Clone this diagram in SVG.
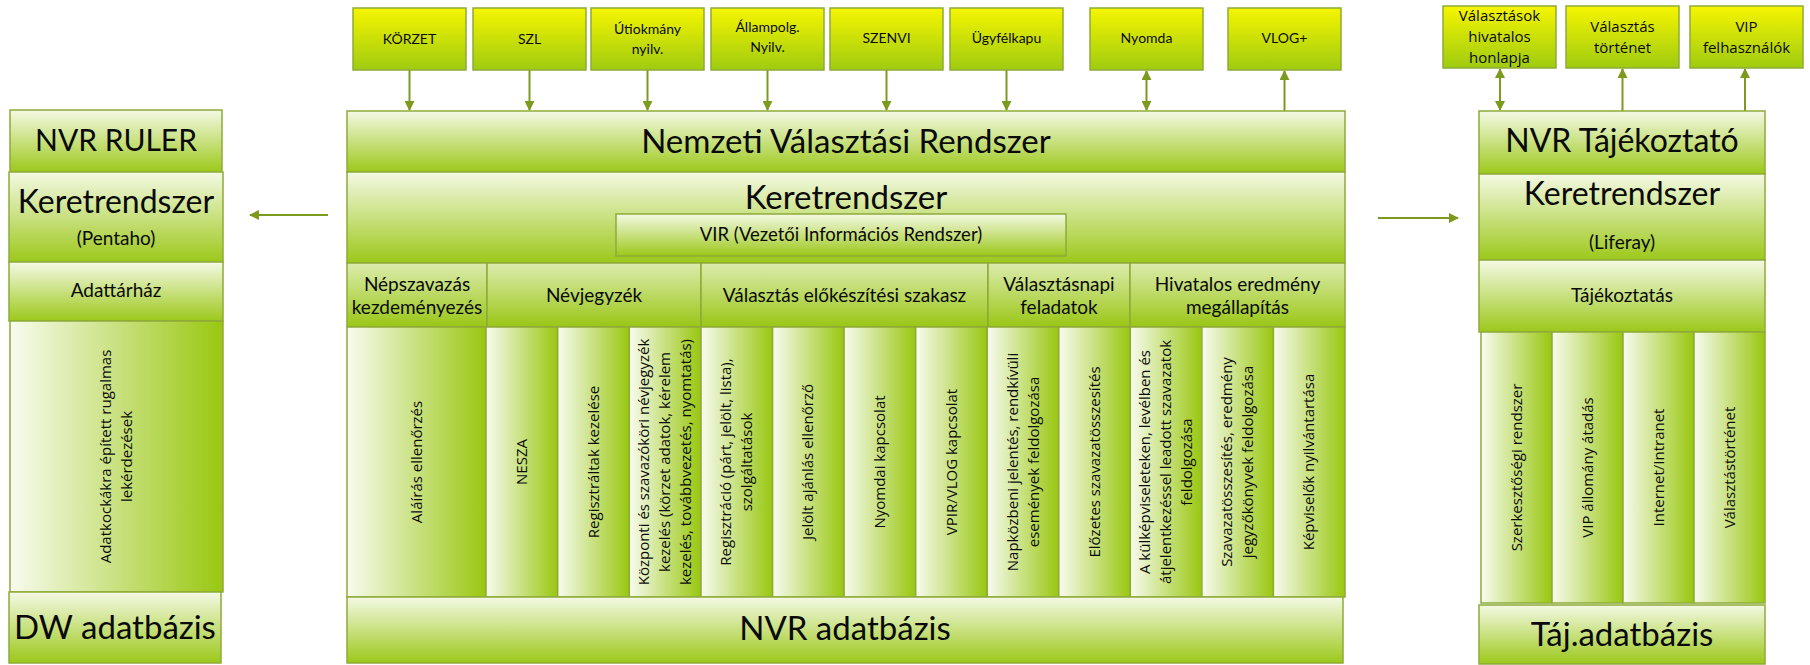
<svg xmlns="http://www.w3.org/2000/svg" width="1810" height="665" viewBox="0 0 1810 665">
<defs>
<linearGradient id="gTop" x1="0" y1="0" x2="0" y2="1">
<stop offset="0" stop-color="#f6f500"/><stop offset="1" stop-color="#9fcb10"/>
</linearGradient>
<linearGradient id="gBox" x1="0" y1="0" x2="0" y2="1">
<stop offset="0" stop-color="#f4f9e4"/><stop offset="1" stop-color="#9cc81a"/>
</linearGradient>
<linearGradient id="gHead" x1="0" y1="0" x2="0" y2="1">
<stop offset="0" stop-color="#dcecae"/><stop offset="1" stop-color="#9ac616"/>
</linearGradient>
<linearGradient id="gBar" x1="0" y1="0" x2="1" y2="0">
<stop offset="0" stop-color="#f8fbef"/><stop offset="1" stop-color="#99c710"/>
</linearGradient>
<marker id="ah" viewBox="0 0 10 10" refX="9" refY="5" markerWidth="5" markerHeight="5" orient="auto-start-reverse" markerUnits="strokeWidth">
<path d="M0,0 L10,5 L0,10 z" fill="#7c9a1e"/>
</marker>
</defs>
<style>
.top,.box,.head,.bar{stroke:#8eab38;stroke-width:1.5}
.top{fill:url(#gTop)}
.box{fill:url(#gBox)}
.head{fill:url(#gHead)}
.bar{fill:url(#gBar)}
text{fill:#0a0a0a;text-anchor:middle}
.c{font-family:Lato,"Liberation Sans",sans-serif}
.o{font-family:"Open Sans","DejaVu Sans",sans-serif}
.t14{font-size:14px}
.v{font-family:"Open Sans","DejaVu Sans",sans-serif;font-size:15px}
.con{stroke:#7c9a1e;stroke-width:2;fill:none}
</style>

<g id="connectors">
<line class="con" x1="409.5" y1="70" x2="409.5" y2="110" marker-end="url(#ah)"/>
<line class="con" x1="529.5" y1="70" x2="529.5" y2="110" marker-end="url(#ah)"/>
<line class="con" x1="647.5" y1="70" x2="647.5" y2="110" marker-end="url(#ah)"/>
<line class="con" x1="767.5" y1="70" x2="767.5" y2="110" marker-end="url(#ah)"/>
<line class="con" x1="886.5" y1="70" x2="886.5" y2="110" marker-end="url(#ah)"/>
<line class="con" x1="1006.5" y1="70" x2="1006.5" y2="110" marker-end="url(#ah)"/>
<line class="con" x1="1146.5" y1="71" x2="1146.5" y2="110" marker-start="url(#ah)" marker-end="url(#ah)"/>
<line class="con" x1="1284.5" y1="111" x2="1284.5" y2="71" marker-end="url(#ah)"/>
<line class="con" x1="1500" y1="69" x2="1500" y2="110" marker-start="url(#ah)" marker-end="url(#ah)"/>
<line class="con" x1="1622.5" y1="111" x2="1622.5" y2="69" marker-end="url(#ah)"/>
<line class="con" x1="1745" y1="111" x2="1745" y2="69" marker-end="url(#ah)"/>
<line class="con" x1="328" y1="215" x2="250" y2="215" stroke-width="2.5" marker-end="url(#ah)"/>
<line class="con" x1="1378" y1="218" x2="1458" y2="218" stroke-width="2.5" marker-end="url(#ah)"/>
</g>

<!-- top boxes -->
<g id="korzet"><rect class="top" x="353" y="8" width="113" height="62"/><text class="c t14" x="409.5" y="44">KÖRZET</text></g>
<g id="szl"><rect class="top" x="473" y="8" width="113" height="62"/><text class="c t14" x="529.5" y="44">SZL</text></g>
<g id="utiokmany"><rect class="top" x="591" y="8" width="113" height="62"/><text class="c t14" x="647.5" y="34">Útiokmány</text><text class="c t14" x="647.5" y="54">nyilv.</text></g>
<g id="allampolg"><rect class="top" x="711" y="8" width="113" height="62"/><text class="c t14" x="767.5" y="32">Állampolg.</text><text class="c t14" x="767.5" y="52">Nyilv.</text></g>
<g id="szenvi"><rect class="top" x="830" y="8" width="113" height="62"/><text class="c t14" x="886.5" y="43">SZENVI</text></g>
<g id="ugyfelkapu"><rect class="top" x="950" y="8" width="113" height="62"/><text class="c t14" x="1006.5" y="43">Ügyfélkapu</text></g>
<g id="nyomda"><rect class="top" x="1090" y="8" width="113" height="62"/><text class="c t14" x="1146.5" y="43">Nyomda</text></g>
<g id="vlog"><rect class="top" x="1228" y="8" width="113" height="62"/><text class="c t14" x="1284.5" y="43">VLOG+</text></g>

<g id="honlap"><rect class="top" x="1443" y="6" width="113" height="62"/><text class="o" font-size="15" x="1499.5" y="21">Választások</text><text class="o" font-size="15" x="1499.5" y="42">hivatalos</text><text class="o" font-size="15" x="1499.5" y="63">honlapja</text></g>
<g id="valtortenet"><rect class="top" x="1566" y="6" width="113" height="62"/><text class="o" font-size="15" x="1622.5" y="32">Választás</text><text class="o" font-size="15" x="1622.5" y="53">történet</text></g>
<g id="vipfelh"><rect class="top" x="1690" y="6" width="113" height="62"/><text class="o" font-size="15" x="1746.5" y="32">VIP</text><text class="o" font-size="15" x="1746.5" y="53">felhasználók</text></g>

<!-- left column -->
<g id="ruler"><rect class="box" x="10" y="110" width="212" height="62"/><text class="c" font-size="30" x="116" y="151">NVR RULER</text></g>
<g id="ruler-keret"><rect class="box" x="9" y="172" width="214" height="90"/><text class="c" font-size="32" x="116" y="213">Keretrendszer</text><text class="c" font-size="19" x="116" y="245">(Pentaho)</text></g>
<g id="adattarhaz"><rect class="box" x="9" y="262" width="214" height="59"/><text class="c" font-size="19" x="116" y="297">Adattárház</text></g>
<g id="adatkocka"><rect class="bar" x="10" y="321" width="213" height="271"/><g transform="translate(116.5,456.5) rotate(-90)"><text class="v" x="0" y="-5.5">Adatkockákra épített rugalmas</text><text class="v" x="0" y="15.5">lekérdezések</text></g></g>
<g id="dw"><rect class="box" x="9" y="592" width="212" height="71"/><text class="c" font-size="33" x="115" y="639">DW adatbázis</text></g>

<!-- main -->
<g id="nvr"><rect class="box" x="347" y="111" width="998" height="61"/><text class="c" font-size="33" x="846" y="153">Nemzeti Választási Rendszer</text></g>
<g id="keret"><rect class="box" x="347" y="172" width="998" height="91"/><text class="c" font-size="33" x="846" y="209">Keretrendszer</text></g>
<g id="vir"><rect class="box" x="616" y="214" width="450" height="42"/><text class="c" font-size="18.5" x="841" y="241">VIR (Vezetői Információs Rendszer)</text></g>

<g id="h-nepszav"><rect class="head" x="347" y="263" width="140" height="64"/><text class="c" font-size="19" x="417" y="291">Népszavazás</text><text class="c" font-size="19" x="417" y="314">kezdeményezés</text></g>
<g id="h-nevjegyzek"><rect class="head" x="487" y="263" width="214" height="64"/><text class="c" font-size="19" x="594" y="302">Névjegyzék</text></g>
<g id="h-elokeszites"><rect class="head" x="701" y="263" width="287" height="64"/><text class="c" font-size="19" x="844.5" y="302">Választás előkészítési szakasz</text></g>
<g id="h-valnap"><rect class="head" x="988" y="263" width="142" height="64"/><text class="c" font-size="19" x="1059" y="291">Választásnapi</text><text class="c" font-size="19" x="1059" y="314">feladatok</text></g>
<g id="h-hivatalos"><rect class="head" x="1130" y="263" width="215" height="64"/><text class="c" font-size="19" x="1237.5" y="291">Hivatalos eredmény</text><text class="c" font-size="19" x="1237.5" y="314">megállapítás</text></g>

<g id="b-alairas"><rect class="bar" x="347" y="327" width="139" height="270"/><g transform="translate(416.5,462) rotate(-90)"><text class="v" y="5">Aláírás ellenőrzés</text></g></g>
<g id="b-nesza"><rect class="bar" x="486" y="327" width="71.7" height="270"/><g transform="translate(521.8,462) rotate(-90)"><text class="v" y="5">NESZA</text></g></g>
<g id="b-regkez"><rect class="bar" x="557.7" y="327" width="71.7" height="270"/><g transform="translate(593.5,462) rotate(-90)"><text class="v" y="5">Regisztráltak kezelése</text></g></g>
<g id="b-kozponti"><rect class="bar" x="629.3" y="327" width="71.7" height="270"/><g transform="translate(665.2,462) rotate(-90)"><text class="v" y="-16">Központi és szavazóköri névjegyzék</text><text class="v" y="5">kezelés (körzet adatok, kérelem</text><text class="v" y="26">kezelés, továbbvezetés, nyomtatás)</text></g></g>
<g id="b-regisztracio"><rect class="bar" x="701" y="327" width="71.6" height="270"/><g transform="translate(736.8,462) rotate(-90)"><text class="v" y="-5.5">Regisztráció (párt, jelölt, lista),</text><text class="v" y="15.5">szolgáltatások</text></g></g>
<g id="b-jelolt"><rect class="bar" x="772.6" y="327" width="71.6" height="270"/><g transform="translate(808.4,462) rotate(-90)"><text class="v" y="5">Jelölt ajánlás ellenőrző</text></g></g>
<g id="b-nyomdai"><rect class="bar" x="844.1" y="327" width="71.6" height="270"/><g transform="translate(879.9,462) rotate(-90)"><text class="v" y="5">Nyomdai kapcsolat</text></g></g>
<g id="b-vpir"><rect class="bar" x="915.7" y="327" width="71.6" height="270"/><g transform="translate(951.5,462) rotate(-90)"><text class="v" y="5">VPIR/VLOG kapcsolat</text></g></g>
<g id="b-napkozbeni"><rect class="bar" x="987.2" y="327" width="71.6" height="270"/><g transform="translate(1023,462) rotate(-90)"><text class="v" y="-5.5">Napközbeni jelentés, rendkívüli</text><text class="v" y="15.5">események feldolgozása</text></g></g>
<g id="b-elozetes"><rect class="bar" x="1058.8" y="327" width="71.6" height="270"/><g transform="translate(1094.6,462) rotate(-90)"><text class="v" y="5">Előzetes szavazatösszesítés</text></g></g>
<g id="b-kulkepv"><rect class="bar" x="1130.3" y="327" width="71.6" height="270"/><g transform="translate(1166.1,462) rotate(-90)"><text class="v" y="-16">A külképviseleteken, levélben és</text><text class="v" y="5">átjelentkezéssel leadott szavazatok</text><text class="v" y="26">feldolgozása</text></g></g>
<g id="b-szavossz"><rect class="bar" x="1201.9" y="327" width="71.6" height="270"/><g transform="translate(1237.7,462) rotate(-90)"><text class="v" y="-5.5">Szavazatösszesítés, eredmény</text><text class="v" y="15.5">jegyzőkönyvek feldolgozása</text></g></g>
<g id="b-kepviselok"><rect class="bar" x="1273.4" y="327" width="71.6" height="270"/><g transform="translate(1309.2,462) rotate(-90)"><text class="v" y="5">Képviselők nyilvántartása</text></g></g>

<g id="nvrdb"><rect class="box" x="347" y="597" width="996" height="66"/><text class="c" font-size="33" x="845" y="640">NVR adatbázis</text></g>

<!-- right column -->
<g id="taj"><rect class="box" x="1479" y="111" width="286" height="63"/><text class="c" font-size="32" x="1622" y="152">NVR Tájékoztató</text></g>
<g id="taj-keret"><rect class="box" x="1479" y="174" width="286" height="86"/><text class="c" font-size="32" x="1622" y="205">Keretrendszer</text><text class="c" font-size="19" x="1622" y="249">(Liferay)</text></g>
<g id="tajekoztatas"><rect class="box" x="1479" y="260" width="286" height="72"/><text class="c" font-size="19" x="1622" y="302">Tájékoztatás</text></g>
<g id="r-szerk"><rect class="bar" x="1481" y="332" width="71" height="271"/><g transform="translate(1516.5,467.5) rotate(-90)"><text class="v" y="5">Szerkesztőségi rendszer</text></g></g>
<g id="r-vip"><rect class="bar" x="1552" y="332" width="71" height="271"/><g transform="translate(1587.5,467.5) rotate(-90)"><text class="v" y="5">VIP állomány átadás</text></g></g>
<g id="r-internet"><rect class="bar" x="1623" y="332" width="71" height="271"/><g transform="translate(1658.5,467.5) rotate(-90)"><text class="v" y="5">Internet/Intranet</text></g></g>
<g id="r-valtort"><rect class="bar" x="1694" y="332" width="71" height="271"/><g transform="translate(1729.5,467.5) rotate(-90)"><text class="v" y="5">Választástörténet</text></g></g>
<g id="tajdb"><rect class="box" x="1479" y="605" width="286" height="59"/><text class="c" font-size="33" x="1622" y="646">Táj.adatbázis</text></g>
</svg>
